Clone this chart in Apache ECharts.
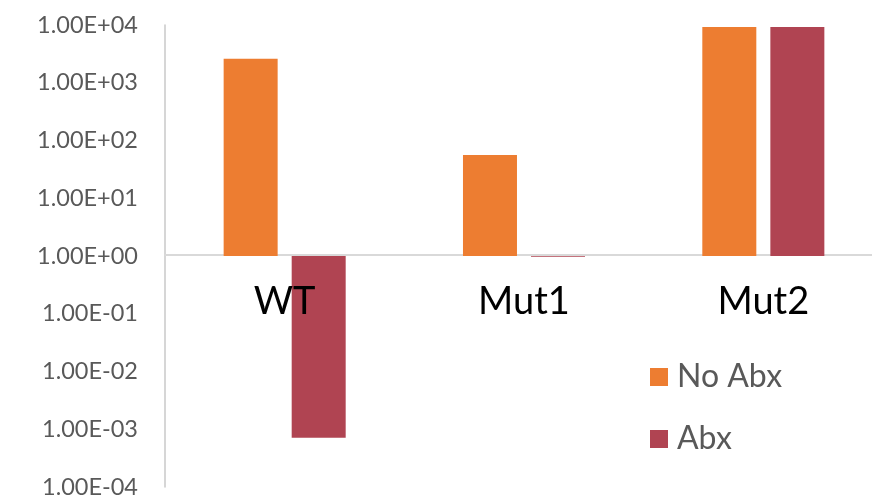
<!DOCTYPE html>
<html><head><meta charset="utf-8">
<script src="https://cdn.jsdelivr.net/npm/echarts@6/dist/echarts.min.js"></script>
<style>html,body{margin:0;padding:0;background:#fff}#c{width:872px;height:501px}</style>
</head><body><div id="c"></div>
<script>
var categories = ['WT', 'Mut1', 'Mut2'];
var noAbx = [2600, 56, 9200];
var abx = [0.00071, 0.97, 9200];
var seriesNames = ['No Abx', 'Abx'];

function fmt(v) {
  var e = Math.round(Math.log10(v));
  var s = e < 0 ? '-' : '+';
  var a = Math.abs(e);
  return '1.00E' + s + (a < 10 ? '0' : '') + a;
}

var chart = echarts.init(document.getElementById('c'));
chart.setOption({
  animation: false,
  textStyle: { fontFamily: 'Lato' },
  grid: { left: 165, top: 25, right: -11, bottom: 14, outerBoundsMode: 'none', containLabel: false },
  legend: {
    orient: 'vertical', left: 645, top: 356,
    itemWidth: 18, itemHeight: 18, itemGap: 30,
    icon: 'rect',
    textStyle: { fontSize: 32, color: '#595959', fontFamily: 'Lato', lineHeight: 30, padding: [0,0,0,4] },
    data: seriesNames
  },
  xAxis: [{
    type: 'category', data: categories,
    offset: -232, z: 0,
    axisLine: { show: true, lineStyle: { color: '#d9d9d9', width: 2 } },
    axisTick: { show: false },
    axisLabel: { show: false }
  }, {
    type: 'category', data: categories,
    position: 'bottom', offset: -232, z: 10,
    axisLine: { show: false },
    axisTick: { show: false },
    axisLabel: { fontSize: 38, color: '#000', fontFamily: 'Lato', margin: 28 }
  }],
  yAxis: {
    type: 'log', logBase: 10, min: 1e-4, max: 1e4,
    axisLine: { show: true, lineStyle: { color: '#c8c8c8', width: 1.5 } },
    axisTick: { show: false },
    splitLine: { show: false },
    axisLabel: { fontSize: 23.5, color: '#595959', fontFamily: 'Lato', margin: 27, formatter: fmt }
  },
  series: [
    { name: seriesNames[0], type: 'bar', xAxisIndex: 0, data: noAbx, barWidth: 54, barGap: '26%',
      itemStyle: { color: '#ED7D31' } },
    { name: seriesNames[1], type: 'bar', xAxisIndex: 0, data: abx, barWidth: 54,
      itemStyle: { color: '#B04452' } }
  ]
});
</script></body></html>
